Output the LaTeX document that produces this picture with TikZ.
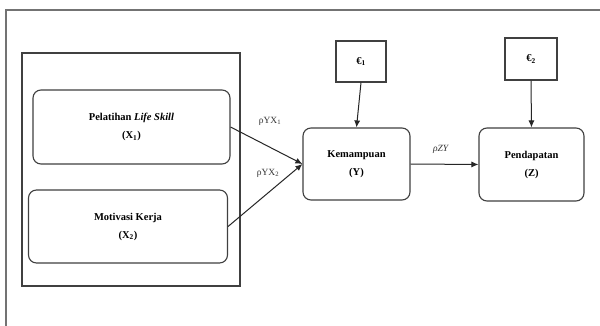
\documentclass[tikz,border=0pt]{standalone}
\usepackage{fontspec}
\setmainfont{Liberation Serif}
\usetikzlibrary{arrows.meta}
\begin{document}
\begin{tikzpicture}[x=1pt,y=-1pt,
  frameline/.style={draw=black!55,line width=1.1pt},
  rbox/.style={draw=black!75,line width=1.1pt,rounded corners=8pt,align=center,font=\bfseries\fontsize{10.5}{18}\selectfont,inner sep=0pt},
  ebox/.style={draw=black!75,line width=1.1pt,align=center,font=\bfseries\fontsize{10.5}{12}\selectfont,inner sep=0pt},
  conn/.style={draw=black!85,line width=1pt,-{Latex[length=7pt,width=6pt]}},
  lab/.style={font=\fontsize{9.5}{10}\selectfont,inner sep=0pt,text=black!80}]
\useasboundingbox (0,0) rectangle (600,326);
\fill[white] (0,0) rectangle (600,326);
% outer frame (continues past the picture edges)
\coordinate (ftl) at (6,10);
\coordinate (ftr) at (600,10);
\coordinate (fbl) at (6,326);
\draw[frameline] (fbl) -- (ftl) -- (ftr);
% group box
\node[draw=black!75,line width=1.25pt,minimum width=218pt,minimum height=233pt,inner sep=0pt] (grp) at (131,169.5) {};
% nodes
\node[rbox,minimum width=197pt,minimum height=74pt] (x1) at (131.5,127) {Pelatihan \textit{Life Skill}\\(X\textsubscript{1})};
\node[rbox,minimum width=199pt,minimum height=73pt] (x2) at (128,226.5) {Motivasi Kerja\\(X\textsubscript{2})};
\node[rbox,minimum width=107pt,minimum height=72pt] (y) at (356.5,164) {Kemampuan\\(Y)};
\node[rbox,minimum width=105pt,minimum height=73pt] (z) at (531.5,164.5) {Pendapatan\\(Z)};
\node[ebox,minimum width=50pt,minimum height=41pt] (e1) at (361,61.5) {€\textsubscript{1}};
\node[ebox,minimum width=52pt,minimum height=42pt] (e2) at (531,59) {€\textsubscript{2}};
% connectors
\draw[conn] (x1.east) -- (y.west);
\draw[conn] (x2.east) -- (y.west);
\draw[conn] (y.east) -- (z.west);
\draw[conn] (e1.south) -- (y.north);
\draw[conn] (e2.south) -- (z.north);
% labels
\node[lab] (l1) at (270,121) {ρYX\textsubscript{1}};
\node[lab] (l2) at (268,173) {ρYX\textsubscript{2}};
\node[lab] (l3) at (441,149) {\textit{ρZY}};
\end{tikzpicture}
\end{document}
